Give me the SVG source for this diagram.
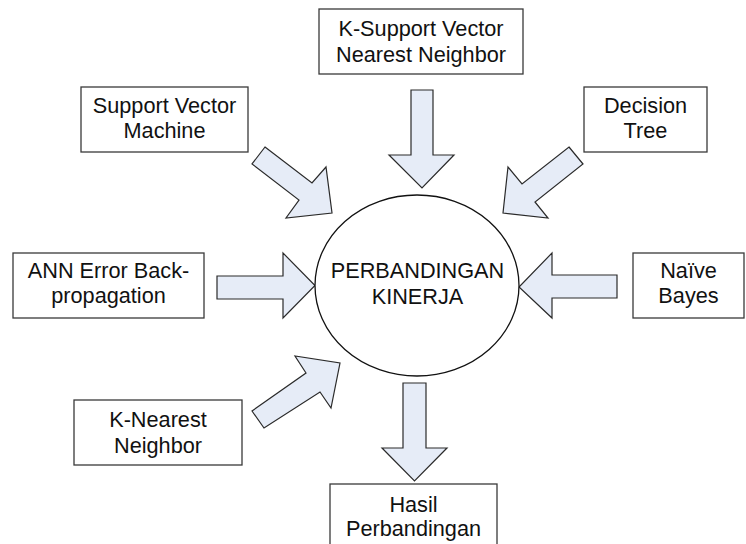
<svg xmlns="http://www.w3.org/2000/svg" width="746" height="544" viewBox="0 0 746 544">
<style>
.box{fill:#fff;stroke:#3a3a3a;stroke-width:1.3}
.arr{fill:#E6ECF7;stroke:#2a2a2a;stroke-width:1.2;stroke-linejoin:miter}
.t{font-family:"Liberation Sans",Arial,sans-serif;font-size:21.7px;fill:#111;text-anchor:middle}
</style>
<rect width="746" height="544" fill="#fff"/>
<g id="connectors">
<polygon class="arr" points="411,90 433,90 433,155 454,155 422,188 389,155 411,155"/>
<polygon class="arr" points="265,147 312,183 326,167 332,213 286,218 299,200 252,164"/>
<polygon class="arr" points="569,147 583,164 535,202 548,218 503,213 508,167 522,184"/>
<polygon class="arr" points="217,276 283,276 283,253 315,285.5 283,318 283,299 217,299"/>
<polygon class="arr" points="617,275 552,275 552,253 519,287 552,318 552,298 617,298"/>
<polygon class="arr" points="252,411 306,373 295,356 340,363 331,408 320,392 264,428"/>
<polygon class="arr" points="403,383 426,383 426,448 447,448 414.5,481 382,448 403,448"/>
</g>
<g id="center">
<ellipse cx="417" cy="285.5" rx="102" ry="90.5" fill="#fff" stroke="#111" stroke-width="1.3"/>
<text class="t" x="417.5" y="278">PERBANDINGAN</text>
<text class="t" x="417.5" y="304">KINERJA</text>
</g>
<g id="ksvnn">
<rect class="box" x="319" y="9" width="204" height="65"/>
<text class="t" x="421" y="36">K-Support Vector</text>
<text class="t" x="421" y="62">Nearest Neighbor</text>
</g>
<g id="svm">
<rect class="box" x="81" y="87" width="167" height="65"/>
<text class="t" x="164.5" y="113">Support Vector</text>
<text class="t" x="164.5" y="138">Machine</text>
</g>
<g id="dt">
<rect class="box" x="584" y="87" width="123" height="65"/>
<text class="t" x="645.5" y="113">Decision</text>
<text class="t" x="645.5" y="138">Tree</text>
</g>
<g id="ann">
<rect class="box" x="13" y="253" width="191" height="65"/>
<text class="t" x="108.5" y="278">ANN Error Back-</text>
<text class="t" x="108.5" y="303">propagation</text>
</g>
<g id="nb">
<rect class="box" x="633" y="253" width="111" height="65"/>
<text class="t" x="688.5" y="278">Naïve</text>
<text class="t" x="688.5" y="303">Bayes</text>
</g>
<g id="knn">
<rect class="box" x="74" y="400" width="168" height="65"/>
<text class="t" x="158" y="427">K-Nearest</text>
<text class="t" x="158" y="453">Neighbor</text>
</g>
<g id="hasil">
<rect class="box" x="330" y="484" width="167" height="66"/>
<text class="t" x="413.5" y="512">Hasil</text>
<text class="t" x="413.5" y="536">Perbandingan</text>
</g>
</svg>
